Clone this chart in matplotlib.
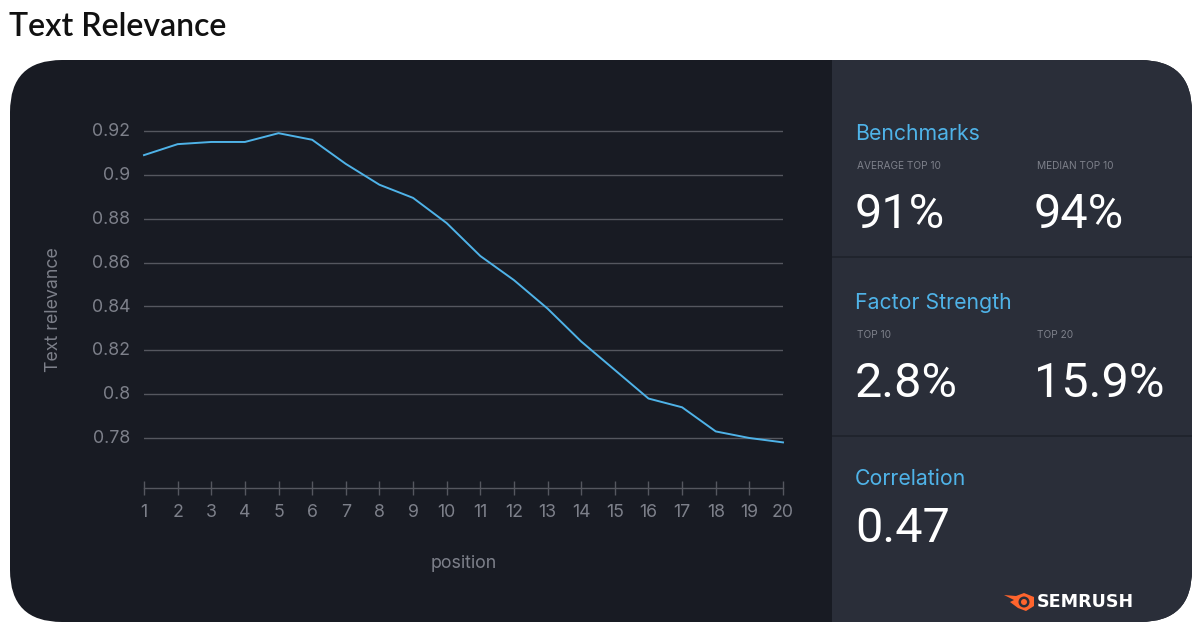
import matplotlib
matplotlib.use("Agg")
import matplotlib.pyplot as plt
from matplotlib.patches import FancyBboxPatch, Rectangle, Circle, Polygon
from matplotlib.transforms import ScaledTranslation

# Data
positions = list(range(1, 21))
relevance = [0.909, 0.914, 0.915, 0.915, 0.919, 0.916, 0.905, 0.8955, 0.8895, 0.878,
             0.863, 0.852, 0.839, 0.824, 0.811, 0.798, 0.794, 0.783, 0.780, 0.778]
y_ticks = [0.78, 0.8, 0.82, 0.84, 0.86, 0.88, 0.9, 0.92]
y_tick_labels = ["0.78", "0.8", "0.82", "0.84", "0.86", "0.88", "0.9", "0.92"]

W, H = 1200, 634
LEFT_BG = "#181b23"
RIGHT_BG = "#2a2e39"
BLUE = "#4fb3e8"
GREY = "#7d808a"
LINE = "#55575f"
BIG = {"fontsize": 35, "color": "white", "family": "Roboto", "va": "center"}

plt.rcParams["font.family"] = ["Inter", "DejaVu Sans"]

fig = plt.figure(figsize=(W / 100, H / 100), dpi=100, facecolor="white")

# Background layer in pixel coordinates
bg = fig.add_axes([0, 0, 1, 1])
bg.set_xlim(0, W)
bg.set_ylim(H, 0)
bg.axis("off")

card = FancyBboxPatch((10, 60), 1182, 562, boxstyle="round,pad=0,rounding_size=52",
                      facecolor=LEFT_BG, edgecolor="none")
bg.add_patch(card)
right = Rectangle((832, 60), 360, 562, facecolor=RIGHT_BG, edgecolor="none")
bg.add_patch(right)
right.set_clip_path(card)
for y in [257, 436]:
    bg.plot([832, 1192], [y, y], color="#1f222b", lw=1.2, solid_capstyle="butt")

bg.text(9, 27, "Text Relevance", fontsize=23, family="Lato", weight="semibold", color="#111111", va="center")

# Right hand panel
bg.text(855, 134, "Benchmarks", fontsize=15.3, color=BLUE, va="center")
bg.text(857, 166, "AVERAGE TOP 10", fontsize=7.3, color=GREY, va="center")
bg.text(1037, 166, "MEDIAN TOP 10", fontsize=7.3, color=GREY, va="center")
bg.text(855, 215, "91%", **BIG)
bg.text(1034, 215, "94%", **BIG)

bg.text(855, 303, "Factor Strength", fontsize=15.3, color=BLUE, va="center")
bg.text(857, 335, "TOP 10", fontsize=7.3, color=GREY, va="center")
bg.text(1037, 335, "TOP 20", fontsize=7.3, color=GREY, va="center")
bg.text(855, 384, "2.8%", **BIG)
bg.text(1034, 384, "15.9%", **BIG)

bg.text(855, 479, "Correlation", fontsize=15.3, color=BLUE, va="center")
bg.text(855, 529, "0.47", **BIG)

# Logo: flame and wordmark
flame = Polygon([(1004, 595), (1016, 596), (1024, 593), (1034, 597), (1034, 606),
                 (1026, 611), (1018, 608), (1010, 602), (1014, 600)],
                facecolor="#ff642d", edgecolor="none")
bg.add_patch(flame)
bg.add_patch(Circle((1024, 602), 5.5, facecolor=RIGHT_BG, edgecolor="none"))
bg.add_patch(Circle((1024, 602), 3, facecolor="#ff642d", edgecolor="none"))
bg.text(1037, 602, "SEMRUSH", fontsize=12.6, color="white", weight="bold", va="center", family="DejaVu Sans")

# Chart
ax_left, ax_right, ax_top, ax_bottom = 144, 783, 120, 488
ax = fig.add_axes([ax_left / W, 1 - ax_bottom / H, (ax_right - ax_left) / W, (ax_bottom - ax_top) / H])
ax.patch.set_alpha(0)
px_per_unit = (438 - 131) / 0.14
ax.set_xlim(1, 20)
ax.set_ylim(0.78 - (ax_bottom - 438) / px_per_unit, 0.78 + (438 - ax_top) / px_per_unit)

ax.plot(positions, relevance, color=BLUE, lw=1.4, zorder=3, clip_on=False)

ax.set_xticks(positions)
ax.set_yticks(y_ticks)
ax.set_yticklabels(y_tick_labels)
ax.grid(axis="y", color=LINE, lw=1)
ax.set_axisbelow(True)

for side in ["top", "right", "left"]:
    ax.spines[side].set_visible(False)
ax.spines["bottom"].set_color(LINE)
ax.spines["bottom"].set_linewidth(1)

ax.tick_params(axis="y", length=0, labelsize=12.8, labelcolor=GREY, pad=10)
ax.tick_params(axis="x", direction="inout", length=10, width=1, color=LINE,
               labelsize=12.8, labelcolor=GREY, pad=6.5)

# y labels sit a little above their grid lines
shift = ScaledTranslation(0, 1 / 72, fig.dpi_scale_trans)
for label in ax.get_yticklabels():
    label.set_transform(label.get_transform() + shift)

bg.text(464, 563, "position", fontsize=12.8, color=GREY, ha="center", va="center")
bg.text(53, 310, "Text relevance", fontsize=12.8, color=GREY, rotation=90, ha="center", va="center")

fig.savefig("out.png", dpi=100)
